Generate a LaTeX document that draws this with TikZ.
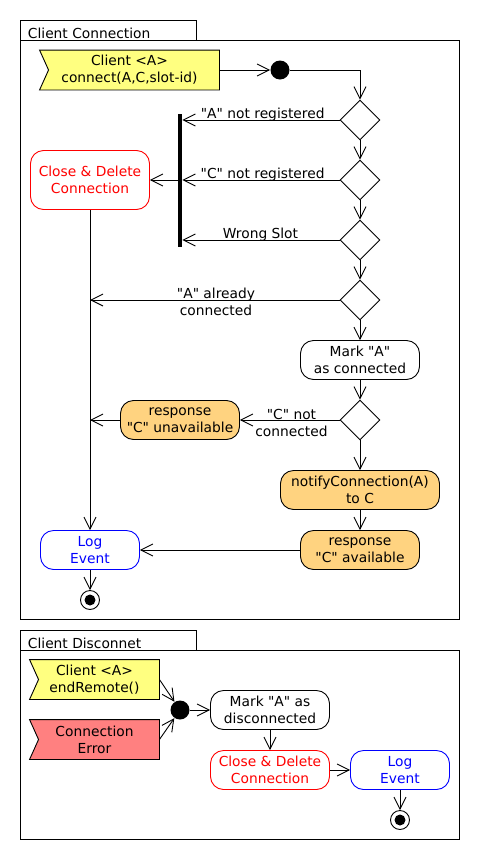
\documentclass[tikz,border=0pt]{standalone}
\usepackage{fontspec}
\setmainfont{DejaVu Sans}[Ligatures=TeXOff]
\usetikzlibrary{arrows.meta,shapes.geometric,backgrounds,calc}
\definecolor{evyellow}{RGB}{255,255,128}
\definecolor{evred}{RGB}{255,128,128}
\definecolor{actorange}{RGB}{255,211,128}
\definecolor{myred}{RGB}{255,0,0}
\definecolor{myblue}{RGB}{0,0,255}
\newcommand{\evshape}[2]{%
  \begin{scope}[on background layer]
    \draw[fill=#2, line width=0.9pt] (#1.north west) -- (#1.north east) -- (#1.south east) -- (#1.south west) -- ([xshift=9pt]#1.west) -- cycle;
  \end{scope}}
\begin{document}
\begin{tikzpicture}[x=1pt,y=-1pt,
  line width=0.9pt,
  >={Straight Barb[length=12pt,width=12pt]},
  every node/.style={font=\fontsize{13.8}{17}\selectfont},
  act/.style={draw, rounded corners=13pt, align=center, inner sep=0pt, minimum height=39pt, minimum width=119pt},
  evnode/.style={align=center, inner sep=0pt, minimum height=39pt},
  dec/.style={diamond, draw, minimum width=40pt, minimum height=40pt, inner sep=0pt},
  startdot/.style={circle, fill=black, minimum size=19pt, inner sep=0pt},
  enddot/.style={circle, draw, fill=white, minimum size=19pt, inner sep=0pt, path picture={\fill[black] (path picture bounding box.center) circle (5.5pt);}},
  lbl/.style={inner sep=0pt, align=center},
  frametitle/.style={inner sep=0pt, anchor=base west}
]
\useasboundingbox (0,0) rectangle (480,860);

% ---------- Frame 1 ----------
\draw (20,40) rectangle (459,619);
\draw (20,20) rectangle (196,40);
\node[frametitle] (t1) at (27.5,38.5) {Client Connection};

\node[evnode, minimum width=179pt] (ev1) at (129.5,70) {Client <A>\\connect(A,C,slot-id)};
\evshape{ev1}{evyellow}
\node[startdot] (start) at (280,70) {};

\node[dec] (d1) at (360,120) {};
\node[dec] (d2) at (360,180) {};
\node[dec] (d3) at (360,240) {};
\node[dec] (d4) at (360,300) {};
\node[act] (mark) at (360,360) {Mark "A"\\as connected};
\node[dec] (d5) at (360,420) {};
\node[act, fill=actorange, minimum width=159pt] (notify) at (360,490) {notifyConnection(A)\\to C};
\node[act, fill=actorange] (respA) at (360,550) {response\\"C" available};
\node[act, fill=actorange] (respU) at (180,420) {response\\"C" unavailable};
\node[act, draw=myred, text=myred, minimum height=59pt] (cd) at (90,180) {Close \& Delete\\Connection};
\node[act, draw=myblue, text=myblue, minimum width=99pt] (log) at (90,550) {Log\\Event};
\node[enddot] (end1) at (90,600) {};

\node[fill=black, minimum width=4pt, minimum height=133pt, inner sep=0pt] (bar) at (180,180.5) {};

\draw[->] (ev1.east) -- (start);
\draw[->] (start) -| (d1.north);
\draw[->] (d1) -- (d2);
\draw[->] (d2) -- (d3);
\draw[->] (d3) -- (d4);
\draw[->] (d4) -- (mark);
\draw[->] (mark) -- (d5);
\draw[->] (d5) -- (notify);
\draw[->] (notify) -- (respA);
\draw[->] (respA) -- (log);
\draw[->] (log) -- (end1);

\draw[->] (d1.west) -- (d1.west -| bar.east);
\draw[->] (d2.west) -- (d2.west -| bar.east);
\draw[->] (d3.west) -- (d3.west -| bar.east);
\draw[->] (bar.west |- cd.east) -- (cd.east);
\draw[->] (d4.west) -- (d4.west -| cd.south);
\draw[->] (cd.south) -- (log.north);
\draw[->] (d5.west) -- (respU.east);
\draw[->] (respU.west) -- (respU.west -| cd.south);

\node[lbl, anchor=base east] (l1) at (325,118) {"A" not registered};
\node[lbl, anchor=base east] (l2) at (325,178) {"C" not registered};
\node[lbl, anchor=base] (l3) at (260.5,238) {Wrong Slot};
\node[lbl] (l4) at (216,302) {"A" already\\connected};
\node[lbl] (l5) at (291.5,423) {"C" not\\connected};

% ---------- Frame 2 ----------
\draw (20,650) rectangle (459,839);
\draw (20,630) rectangle (196,650);
\node[frametitle] (t2) at (27.5,648) {Client Disconnet};

\node[evnode, minimum width=129pt] (ev2) at (94.5,679.5) {Client <A>\\endRemote()};
\evshape{ev2}{evyellow}
\node[evnode, minimum width=129pt] (ev3) at (94.5,739.5) {Connection\\Error};
\evshape{ev3}{evred}
\node[startdot] (join) at (180,710) {};
\node[act] (markD) at (270,710) {Mark "A" as\\disconnected};
\node[act, draw=myred, text=myred] (cd2) at (270,770) {Close \& Delete\\Connection};
\node[act, draw=myblue, text=myblue, minimum width=99pt] (log2) at (400,770) {Log\\Event};
\node[enddot] (end2) at (400,820) {};

\draw[->] (ev2.east) -- (join);
\draw[->] (ev3.east) -- (join);
\draw[->] (join) -- (markD);
\draw[->] (markD) -- (cd2);
\draw[->] (cd2) -- (log2);
\draw[->] (log2) -- (end2);
\end{tikzpicture}
\end{document}
